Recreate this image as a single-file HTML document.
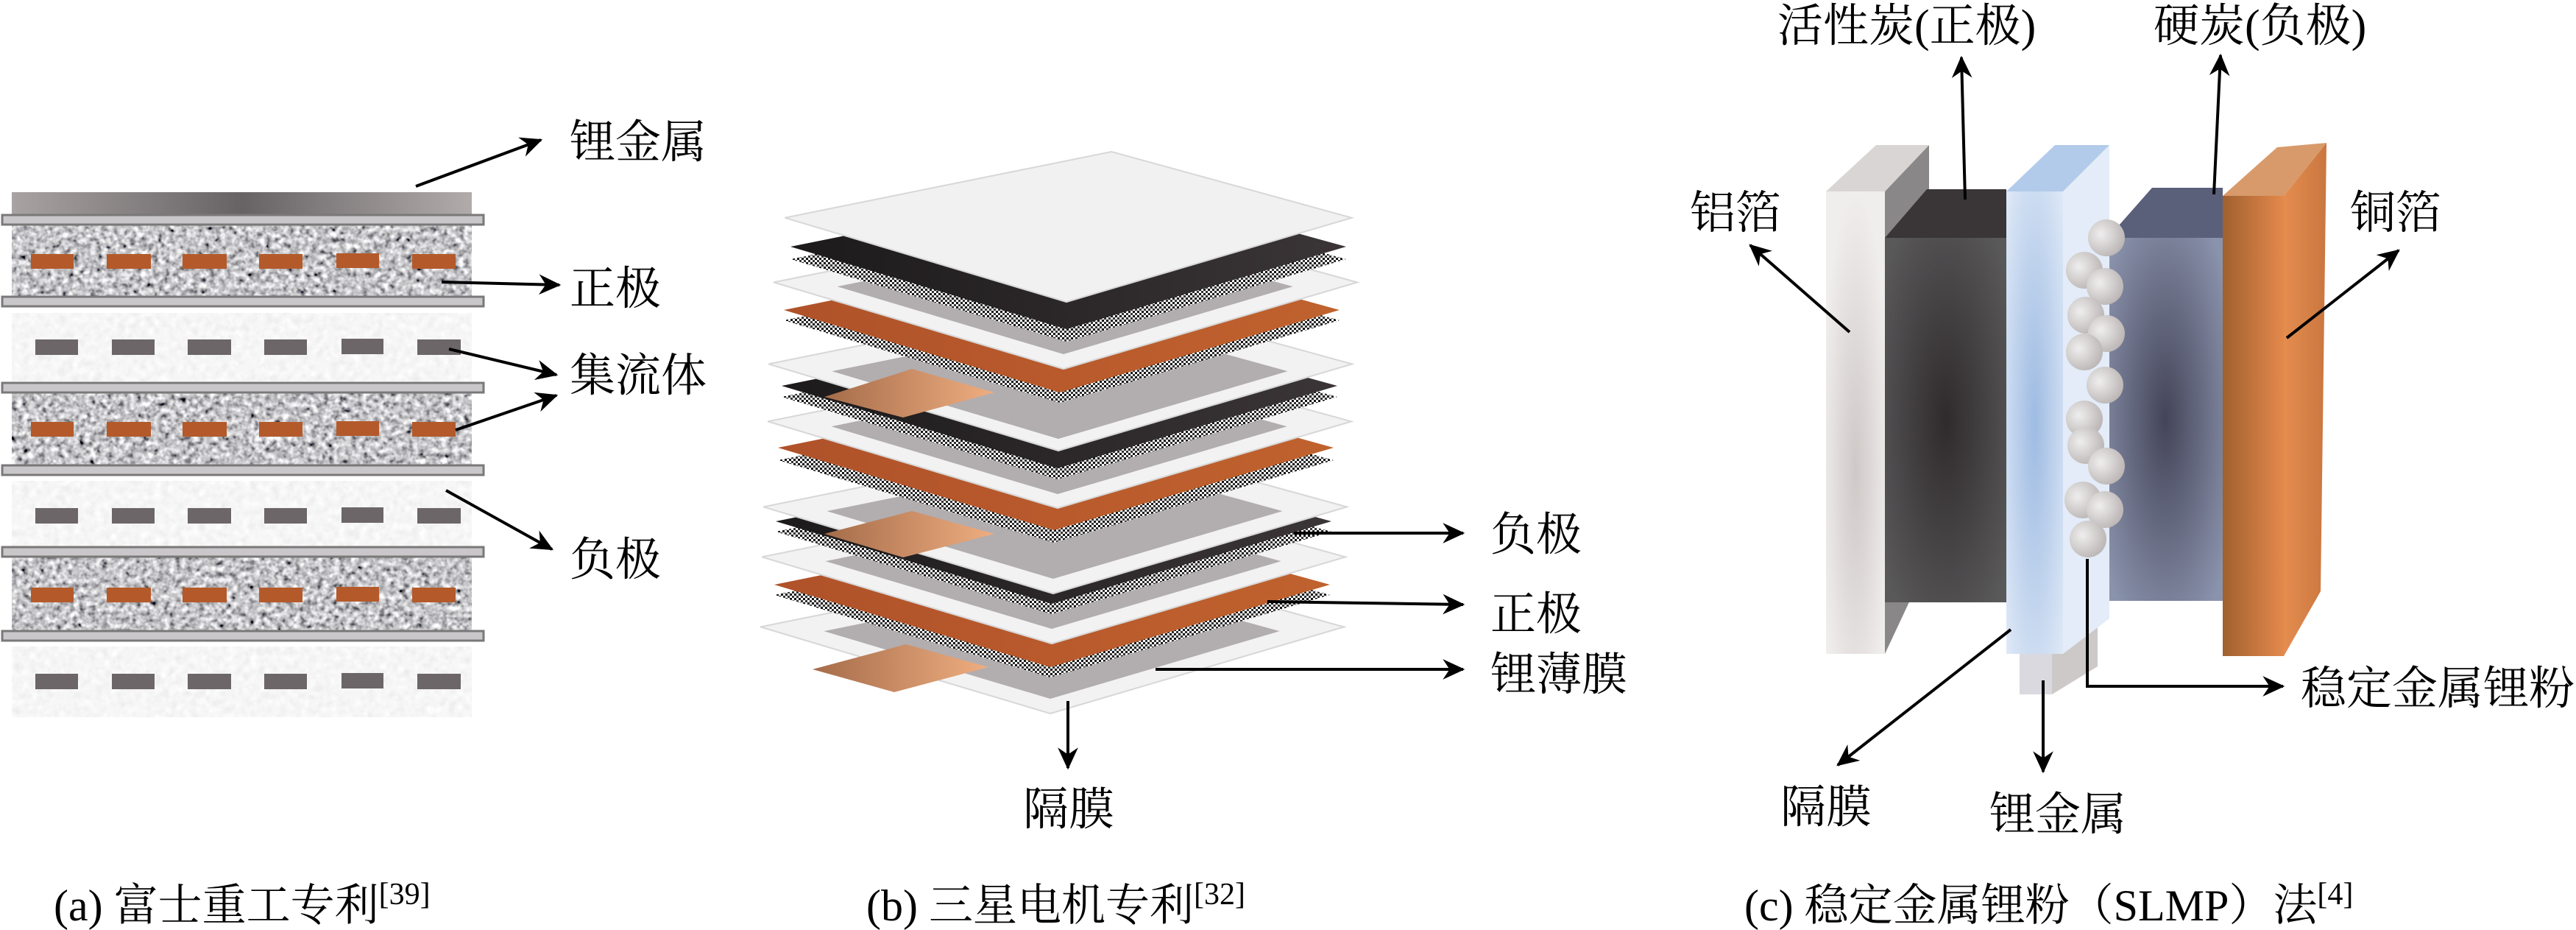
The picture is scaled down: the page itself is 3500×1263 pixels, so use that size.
<!DOCTYPE html>
<html><head><meta charset="utf-8"><style>
html,body{margin:0;padding:0;background:#fff}
svg{display:block}
text{font-family:"Liberation Serif","Noto Serif CJK SC",serif;fill:#000}
</style></head><body>
<svg width="3500" height="1263" viewBox="0 0 3500 1263" xmlns="http://www.w3.org/2000/svg">
<defs>
<marker id="ah" markerWidth="40" markerHeight="30" refX="0" refY="0" viewBox="-26 -13 28 26" markerUnits="userSpaceOnUse" orient="auto">
<path d="M2,0 L-24,-12 L-16,0 L-24,12 z" fill="#000"/>
</marker>
<filter id="gD" x="0" y="0" width="1" height="1">
<feTurbulence type="fractalNoise" baseFrequency="0.13" numOctaves="2" seed="4"/>
<feColorMatrix type="matrix" values="0.85 0.85 0.85 0 -0.72  0.85 0.85 0.85 0 -0.72  0.85 0.85 0.85 0 -0.70  0 0 0 0 1"/>
<feComposite operator="in" in2="SourceGraphic"/>
</filter>
<filter id="gL" x="0" y="0" width="1" height="1">
<feTurbulence type="fractalNoise" baseFrequency="0.1" numOctaves="2" seed="7"/>
<feColorMatrix type="matrix" values="0.12 0.12 0.12 0 0.74  0.12 0.12 0.12 0 0.74  0.12 0.12 0.12 0 0.74  0 0 0 0 1"/>
<feComposite operator="in" in2="SourceGraphic"/>
</filter>
<linearGradient id="li" x1="0" x2="1"><stop offset="0" stop-color="#a9a2a2"/><stop offset="0.5" stop-color="#676365"/><stop offset="1" stop-color="#b2abab"/></linearGradient>
<pattern id="ht" width="6" height="6" patternUnits="userSpaceOnUse"><rect width="6" height="6" fill="#fff"/><rect width="3" height="3" fill="#111"/><rect x="3" y="3" width="3" height="3" fill="#333"/></pattern>
<linearGradient id="blk" x1="0" x2="1"><stop offset="0" stop-color="#1c1a1b"/><stop offset="1" stop-color="#3b3537"/></linearGradient>
<linearGradient id="org" x1="0" x2="1"><stop offset="0" stop-color="#b0522a"/><stop offset="1" stop-color="#c0622e"/></linearGradient>
<linearGradient id="tab" x1="0" x2="1"><stop offset="0" stop-color="#a56c4a"/><stop offset="1" stop-color="#efae80"/></linearGradient>
<polygon id="dm" points="-375,-112 60,-200 380,-112 0,0"/>
<radialGradient id="alF" cx="0.5" cy="0.6" r="0.6"><stop offset="0" stop-color="#cfc8c7"/><stop offset="1" stop-color="#f0eeed"/></radialGradient>
<radialGradient id="acF" cx="0.5" cy="0.5" r="0.65"><stop offset="0" stop-color="#2f2b2d"/><stop offset="1" stop-color="#5a595a"/></radialGradient>
<radialGradient id="spF" cx="0.5" cy="0.5" r="0.7"><stop offset="0" stop-color="#9ebbe2"/><stop offset="1" stop-color="#dfe9f7"/></radialGradient>
<radialGradient id="hcF" cx="0.5" cy="0.5" r="0.65"><stop offset="0" stop-color="#444459"/><stop offset="1" stop-color="#8a93ac"/></radialGradient>
<linearGradient id="cuF" x1="0" x2="1"><stop offset="0" stop-color="#a0602f"/><stop offset="1" stop-color="#e4894c"/></linearGradient>
<linearGradient id="cuS" x1="0" x2="1"><stop offset="0" stop-color="#e58d50"/><stop offset="1" stop-color="#c9763f"/></linearGradient>
<radialGradient id="ball" cx="0.35" cy="0.4" r="0.7"><stop offset="0" stop-color="#efeeee"/><stop offset="1" stop-color="#b9b3b2"/></radialGradient>
</defs>

<!-- ===== Panel (a) ===== -->
<rect x="16" y="261" width="625" height="30" fill="url(#li)"/>
<g filter="url(#gD)">
<rect x="16" y="305" width="625" height="98" fill="#888"/>
<rect x="16" y="534" width="625" height="97" fill="#888"/>
<rect x="16" y="757" width="625" height="100" fill="#888"/>
</g>
<g filter="url(#gL)">
<rect x="16" y="425" width="625" height="93" fill="#eee"/>
<rect x="16" y="653" width="625" height="89" fill="#eee"/>
<rect x="16" y="878" width="625" height="96" fill="#eee"/>
</g>
<g fill="#c9c7c9" stroke="#7a7878" stroke-width="3">
<rect x="3" y="292" width="654" height="13"/>
<rect x="3" y="403" width="654" height="13"/>
<rect x="3" y="520" width="654" height="13"/>
<rect x="3" y="632" width="654" height="13"/>
<rect x="3" y="743" width="654" height="13"/>
<rect x="3" y="857" width="654" height="13"/>
</g>
<g fill="#b45a2a">
<rect x="42" y="345" width="58" height="20"/><rect x="145" y="345" width="60" height="20"/><rect x="248" y="345" width="60" height="20"/><rect x="352" y="345" width="59" height="20"/><rect x="457" y="344" width="58" height="20"/><rect x="560" y="345" width="59" height="20"/>
<rect x="42" y="573" width="58" height="20"/><rect x="145" y="573" width="60" height="20"/><rect x="248" y="573" width="60" height="20"/><rect x="352" y="573" width="59" height="20"/><rect x="457" y="572" width="58" height="20"/><rect x="560" y="573" width="59" height="20"/>
<rect x="42" y="798" width="58" height="20"/><rect x="145" y="798" width="60" height="20"/><rect x="248" y="798" width="60" height="20"/><rect x="352" y="798" width="59" height="20"/><rect x="457" y="797" width="58" height="20"/><rect x="560" y="798" width="59" height="20"/>
</g>
<g fill="#6c6668">
<rect x="48" y="461" width="58" height="21"/><rect x="152" y="461" width="58" height="21"/><rect x="255" y="461" width="59" height="21"/><rect x="359" y="461" width="58" height="21"/><rect x="464" y="460" width="57" height="21"/><rect x="567" y="461" width="59" height="21"/>
<rect x="48" y="690" width="58" height="21"/><rect x="152" y="690" width="58" height="21"/><rect x="255" y="690" width="59" height="21"/><rect x="359" y="690" width="58" height="21"/><rect x="464" y="689" width="57" height="21"/><rect x="567" y="690" width="59" height="21"/>
<rect x="48" y="915" width="58" height="21"/><rect x="152" y="915" width="58" height="21"/><rect x="255" y="915" width="59" height="21"/><rect x="359" y="915" width="58" height="21"/><rect x="464" y="914" width="57" height="21"/><rect x="567" y="915" width="59" height="21"/>
</g>
<g stroke="#000" stroke-width="4" fill="none" marker-end="url(#ah)">
<line x1="565" y1="253" x2="735" y2="190"/>
<line x1="600" y1="383" x2="760" y2="387"/>
<line x1="610" y1="474" x2="756" y2="509"/>
<line x1="619" y1="584" x2="756" y2="537"/>
<line x1="606" y1="666" x2="750" y2="746"/>
</g>
<g font-size="62">
<text x="774" y="214">锂金属</text>
<text x="774" y="413">正极</text>
<text x="774" y="531">集流体</text>
<text x="774" y="781">负极</text>
</g>

<!-- ===== Panel (b) ===== -->
<g stroke="#d8d8d8" stroke-width="2">
<use href="#dm" transform="translate(1427,969) scale(1.05)" fill="#f2f2f2"/>
<use href="#dm" transform="translate(1427,949) scale(0.82)" fill="#b2adaf" stroke="none"/>
<use href="#dm" transform="translate(1427,920)" fill="url(#ht)" stroke="none"/>
<use href="#dm" transform="translate(1427,906)" fill="url(#org)" stroke="none"/>
<use href="#dm" transform="translate(1429,874) scale(1.05)" fill="#f2f2f2"/>
<use href="#dm" transform="translate(1429,854) scale(0.82)" fill="#b2adaf" stroke="none"/>
<use href="#dm" transform="translate(1429,834)" fill="url(#ht)" stroke="none"/>
<use href="#dm" transform="translate(1429,820)" fill="url(#blk)" stroke="none"/>
<use href="#dm" transform="translate(1431,806) scale(1.05)" fill="#f2f2f2"/>
<use href="#dm" transform="translate(1431,786) scale(0.82)" fill="#b2adaf" stroke="none"/>
<use href="#dm" transform="translate(1432,737)" fill="url(#ht)" stroke="none"/>
<use href="#dm" transform="translate(1432,720)" fill="url(#org)" stroke="none"/>
<use href="#dm" transform="translate(1437,690) scale(1.05)" fill="#f2f2f2"/>
<use href="#dm" transform="translate(1437,671) scale(0.82)" fill="#b2adaf" stroke="none"/>
<use href="#dm" transform="translate(1437,651)" fill="url(#ht)" stroke="none"/>
<use href="#dm" transform="translate(1437,636)" fill="url(#blk)" stroke="none"/>
<use href="#dm" transform="translate(1438,612) scale(1.05)" fill="#f2f2f2"/>
<use href="#dm" transform="translate(1438,596) scale(0.82)" fill="#b2adaf" stroke="none"/>
<use href="#dm" transform="translate(1440,547)" fill="url(#ht)" stroke="none"/>
<use href="#dm" transform="translate(1440,533)" fill="url(#org)" stroke="none"/>
<use href="#dm" transform="translate(1445,501) scale(1.05)" fill="#f2f2f2"/>
<use href="#dm" transform="translate(1445,481) scale(0.82)" fill="#b2adaf" stroke="none"/>
<use href="#dm" transform="translate(1449,464)" fill="url(#ht)" stroke="none"/>
<use href="#dm" transform="translate(1449,447)" fill="url(#blk)" stroke="none"/>
<use href="#dm" transform="translate(1449,410) scale(1.02)" fill="#f1f1f1"/>
</g>
<g fill="url(#tab)">
<polygon points="1120,539 1239,501 1351,533 1227,567"/>
<polygon points="1120,725 1239,694 1351,725 1227,757"/>
<polygon points="1104,909 1231,875 1343,906 1215,940"/>
</g>
<g stroke="#000" stroke-width="4" fill="none" marker-end="url(#ah)">
<line x1="1758" y1="724" x2="1988" y2="724"/>
<line x1="1722" y1="817" x2="1988" y2="821"/>
<line x1="1570" y1="909" x2="1988" y2="909"/>
<line x1="1451" y1="952" x2="1451" y2="1043"/>
</g>
<g font-size="62">
<text x="2025" y="747">负极</text>
<text x="2025" y="855">正极</text>
<text x="2025" y="937">锂薄膜</text>
<text x="1390" y="1120">隔膜</text>
</g>

<!-- ===== Panel (c) ===== -->
<polygon points="2561,260 2621,197 2621,760 2561,888" fill="#8a8788"/>
<polygon points="2561,323 2618,257 2726,257 2726,323" fill="#3a3638"/>
<rect x="2561" y="323" width="165" height="495" fill="url(#acF)"/>
<polygon points="2481,260 2549,197 2621,197 2561,260" fill="#d9d5d4"/>
<rect x="2481" y="260" width="80" height="628" fill="url(#alF)"/>
<polygon points="2864,323 2924,255 3020,255 3020,323" fill="#5a607a"/>
<rect x="2864" y="323" width="156" height="493" fill="url(#hcF)"/>
<polygon points="3103,266 3161,194 3153,803 3103,891" fill="url(#cuS)"/>
<polygon points="3020,266 3094,200 3161,194 3103,266" fill="#d89a6a"/>
<rect x="3020" y="266" width="83" height="625" fill="url(#cuF)"/>
<polygon points="2788,880 2850,851 2850,905 2788,943" fill="#cdc9c9"/>
<rect x="2744" y="880" width="44" height="63" fill="#d9d9df"/>
<polygon points="2803,260 2866,197 2866,840 2803,888" fill="#e3ecf8"/>
<polygon points="2726,260 2792,197 2866,197 2803,260" fill="#b2cbea"/>
<rect x="2726" y="260" width="77" height="628" fill="url(#spF)"/>
<g fill="url(#ball)">
<circle cx="2862" cy="323" r="25"/><circle cx="2832" cy="367" r="25"/><circle cx="2860" cy="389" r="25"/>
<circle cx="2834" cy="428" r="25"/><circle cx="2862" cy="453" r="25"/><circle cx="2832" cy="478" r="25"/>
<circle cx="2860" cy="523" r="25"/><circle cx="2832" cy="569" r="25"/><circle cx="2834" cy="605" r="25"/>
<circle cx="2862" cy="633" r="25"/><circle cx="2830" cy="679" r="25"/><circle cx="2860" cy="692" r="25"/>
<circle cx="2837" cy="732" r="25"/>
</g>
<g stroke="#000" stroke-width="4" fill="none" marker-end="url(#ah)">
<line x1="2670" y1="271" x2="2665" y2="78"/>
<line x1="3008" y1="264" x2="3017" y2="75"/>
<line x1="2513" y1="451" x2="2378" y2="333"/>
<line x1="3107" y1="459" x2="3259" y2="340"/>
<line x1="2732" y1="855" x2="2497" y2="1039"/>
<line x1="2776" y1="924" x2="2776" y2="1048"/>
<polyline points="2836,759 2836,932 3102,932"/>
</g>
<g font-size="62">
<text x="2415" y="56">活性炭(正极)</text>
<text x="2926" y="56">硬炭(负极)</text>
<text x="2296" y="310">铝箔</text>
<text x="3193" y="310">铜箔</text>
<text x="3126" y="956">稳定金属锂粉</text>
<text x="2419" y="1117">隔膜</text>
<text x="2703" y="1127">锂金属</text>
</g>

<g font-size="60">
<text x="73" y="1250">(a) 富士重工专利<tspan font-size="42" dy="-22">[39]</tspan></text>
<text x="1177" y="1250">(b) 三星电机专利<tspan font-size="42" dy="-22">[32]</tspan></text>
<text x="2370" y="1250">(c) 稳定金属锂粉（SLMP）法<tspan font-size="42" dy="-22">[4]</tspan></text>
</g>
</svg>
</body></html>
